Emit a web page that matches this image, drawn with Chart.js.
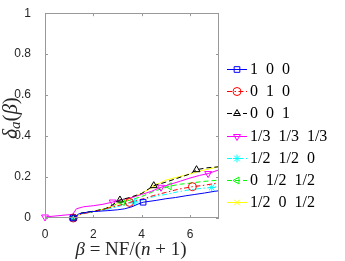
<!DOCTYPE html>
<html>
<head>
<meta charset="utf-8">
<script src="https://cdn.jsdelivr.net/npm/chart.js@4/dist/chart.umd.min.js"></script>
<style>
  html, body { margin: 0; padding: 0; background: #fff; }
</style>
</head>
<body>
<canvas id="mygraph" width="345" height="261"></canvas>
<script>
// legend labels (weights)
const names = ['1 0 0', '0 1 0', '0 0 1', '1/3 1/3 1/3', '1/2 1/2 0', '0 1/2 1/2', '1/2 0 1/2'];

// data profiles
const x_100 = [1.17, 1.4, 1.8, 2.2, 2.6, 3.0, 3.3, 3.6, 3.85, 4.06, 4.6, 5.0, 5.4, 5.8, 6.2, 6.6, 7.0, 7.2];
const y_100 = [0, 0.02, 0.03, 0.033, 0.036, 0.04, 0.045, 0.055, 0.068, 0.077, 0.086, 0.094, 0.1, 0.108, 0.115, 0.122, 0.13, 0.133];

const x_010 = [1.17, 1.5, 2.0, 2.5, 3.0, 3.5, 3.8, 4.1, 4.5, 5.0, 5.5, 6.1, 6.6, 7.2];
const y_010 = [0, 0.02, 0.03, 0.045, 0.06, 0.076, 0.085, 0.095, 0.11, 0.125, 0.14, 0.153, 0.16, 0.172];

const x_001 = [1.17, 1.5, 2.0, 2.5, 2.8, 3.1, 3.5, 4.0, 4.5, 5.0, 5.5, 6.0, 6.27, 6.7, 7.2];
const y_001 = [0, 0.025, 0.033, 0.045, 0.065, 0.088, 0.1, 0.12, 0.158, 0.175, 0.195, 0.215, 0.236, 0.245, 0.25];

const x_333 = [0, 1.15, 1.3, 1.6, 2.0, 2.4, 2.8, 3.2, 3.6, 4.0, 4.4, 4.8, 5.2, 5.6, 6.0, 6.4, 6.75, 7.2];
const y_333 = [0.005, 0.018, 0.045, 0.055, 0.06, 0.067, 0.078, 0.09, 0.1, 0.115, 0.13, 0.15, 0.165, 0.18, 0.195, 0.208, 0.217, 0.235];

const x_550 = [1.17, 1.5, 2.0, 2.5, 3.0, 3.4, 3.7, 4.1, 4.5, 5.0, 5.5, 6.0, 6.5, 6.9, 7.2];
const y_550 = [0, 0.02, 0.03, 0.04, 0.055, 0.07, 0.078, 0.09, 0.105, 0.115, 0.128, 0.138, 0.145, 0.149, 0.155];

const x_055 = [1.17, 1.5, 2.0, 2.5, 2.9, 3.2, 3.6, 4.0, 4.5, 5.14, 5.6, 6.0, 6.5, 7.2];
const y_055 = [0, 0.02, 0.032, 0.045, 0.065, 0.078, 0.09, 0.105, 0.13, 0.155, 0.165, 0.17, 0.178, 0.185];

const x_505 = [1.17, 1.5, 2.0, 2.5, 2.9, 3.2, 3.6, 4.0, 4.5, 5.0, 5.5, 6.0, 6.5, 7.0, 7.2];
const y_505 = [0, 0.02, 0.033, 0.045, 0.065, 0.082, 0.1, 0.12, 0.155, 0.185, 0.2, 0.215, 0.232, 0.245, 0.253];

// axis ticks
const x_ticks = [0, 2, 4, 6];
const y_ticks = [0, 0.2, 0.4, 0.6, 0.8, 1];

// line / marker look, matlab style
const looks = [
  { color: '#0000ff', dash: [], style: 'rect', rot: 0, marks: [0, 9] },
  { color: '#ff0000', dash: [5, 2.5, 1.5, 2.5], style: 'circle', rot: 0, marks: [0, 5, 11] },
  { color: '#000000', dash: [5, 3], style: 'triangle', rot: 0, marks: [0, 5, 8, 12] },
  { color: '#ff00ff', dash: [], style: 'triangle', rot: 180, marks: [0, 6, 11, 16] },
  { color: '#00ffff', dash: [5, 2.5, 1.5, 2.5], style: 'star', rot: 0, marks: [0, 6, 13] },
  { color: '#00ff00', dash: [5, 3], style: 'triangle', rot: 270, marks: [0, 5, 9] },
  { color: '#ffff00', dash: [], style: 'crossRot', rot: 0, marks: [0, 5, 8] }
];

const xs = [x_100, x_010, x_001, x_333, x_550, x_055, x_505];
const ys = [y_100, y_010, y_001, y_333, y_550, y_055, y_505];

const datasets = names.map((name, k) => {
  const lk = looks[k];
  return {
    label: name,
    data: xs[k].map((x, i) => ({ x: x, y: ys[k][i] })),
    borderColor: lk.color,
    borderWidth: 1,
    borderDash: lk.dash,
    pointStyle: lk.style,
    rotation: lk.rot,
    pointBorderColor: lk.color,
    pointBackgroundColor: 'rgba(0,0,0,0)',
    pointBorderWidth: 1,
    pointRadius: xs[k].map((x, i) => lk.marks.includes(i) ? 4 : 0),
    tension: 0,
    clip: false
  };
});

// draws a sequence of text pieces centered on (0,0)
function draw_runs(ctx, runs) {
  let total = 0;
  runs.forEach(r => { ctx.font = r.font; r.w = ctx.measureText(r.t).width; total += r.w; });
  let x = -total / 2;
  runs.forEach(r => {
    ctx.font = r.font;
    ctx.fillText(r.t, x, r.dy || 0);
    x += r.w;
  });
}

const frame = {
  id: 'frame',
  afterDraw(chart) {
    const ctx = chart.ctx;
    const a = chart.chartArea;
    const sx = chart.scales.x, sy = chart.scales.y;
    ctx.save();
    // box
    ctx.strokeStyle = '#999999';
    ctx.lineWidth = 1;
    ctx.strokeRect(Math.round(a.left) + 0.5, Math.round(a.top) + 0.5,
      Math.round(a.right - a.left) - 1, Math.round(a.bottom - a.top) - 1);
    // inward ticks
    ctx.beginPath();
    x_ticks.forEach(t => {
      const px = Math.round(sx.getPixelForValue(t)) + 0.5;
      ctx.moveTo(px, a.bottom); ctx.lineTo(px, a.bottom - 3);
      ctx.moveTo(px, a.top); ctx.lineTo(px, a.top + 3);
    });
    y_ticks.forEach(t => {
      const py = Math.round(sy.getPixelForValue(t)) + 0.5;
      ctx.moveTo(a.left, py); ctx.lineTo(a.left + 3, py);
      ctx.moveTo(a.right, py); ctx.lineTo(a.right - 3, py);
    });
    ctx.stroke();

    // axis titles
    ctx.fillStyle = '#262626';
    ctx.textBaseline = 'middle';
    ctx.textAlign = 'left';
    const it = 'italic 19px "Liberation Serif"';
    const up = '19px "Liberation Serif"';
    ctx.save();
    ctx.translate(131, 250);
    draw_runs(ctx, [
      { t: '\u03b2', font: it },
      { t: '\u2005=\u2005', font: up },
      { t: 'NF/(', font: up },
      { t: 'n', font: it },
      { t: '\u2005+\u2005', font: up },
      { t: '1)', font: up }
    ]);
    ctx.restore();
    ctx.save();
    ctx.translate(11, 118);
    ctx.rotate(-Math.PI / 2);
    const it2 = 'italic 21px "Liberation Serif"';
    const up2 = '21px "Liberation Serif"';
    draw_runs(ctx, [
      { t: '\u03b4', font: it2 },
      { t: 'a', font: 'italic 15px "Liberation Serif"', dy: 5 },
      { t: '(', font: up2 },
      { t: '\u03b2', font: it2 },
      { t: ')', font: up2 }
    ]);
    ctx.restore();

    // legend, line sample with marker
    const lx0 = 227, lx1 = 247, row0 = 69, gap = 22.2;
    chart.data.datasets.forEach((ds, k) => {
      const lk = looks[k];
      const y = Math.round(row0 + k * gap) + 0.5;
      ctx.strokeStyle = lk.color;
      ctx.lineWidth = 1;
      ctx.setLineDash(lk.dash);
      ctx.beginPath(); ctx.moveTo(lx0, y); ctx.lineTo(lx1, y); ctx.stroke();
      ctx.setLineDash([]);
      if (Chart.helpers && Chart.helpers.drawPoint) {
        ctx.fillStyle = 'rgba(0,0,0,0)';
        Chart.helpers.drawPoint(ctx, { pointStyle: lk.style, rotation: lk.rot, radius: 4, borderWidth: 1 }, (lx0 + lx1) / 2, y);
      }
      ctx.fillStyle = '#000';
      ctx.font = '16px "Liberation Serif"';
      ctx.fillText(ds.label.split(' ').join('\u2002'), 250, y);
    });
    ctx.restore();
  }
};

new Chart(document.getElementById('mygraph'), {
  type: 'line',
  data: { datasets: datasets },
  options: {
    responsive: false,
    animation: false,
    devicePixelRatio: 1,
    layout: { padding: { left: 0, top: 3, right: 126, bottom: 0 } },
    plugins: { legend: { display: false }, tooltip: { enabled: false } },
    scales: {
      x: {
        type: 'linear', min: 0, max: 7.2,
        grid: { display: false }, border: { display: false },
        ticks: { stepSize: 2, includeBounds: false, padding: 1, color: '#262626',
          font: { family: 'Liberation Sans', size: 12 } },
        afterFit(scale) { scale.height = 43; }
      },
      y: {
        type: 'linear', min: 0, max: 1,
        grid: { display: false }, border: { display: false },
        ticks: { stepSize: 0.2, padding: 6, color: '#262626',
          font: { family: 'Liberation Sans', size: 12 },
          callback: v => String(Math.round(v * 10) / 10) },
        afterFit(scale) { scale.width = 45; }
      }
    }
  },
  plugins: [frame]
});
</script>
</body>
</html>
